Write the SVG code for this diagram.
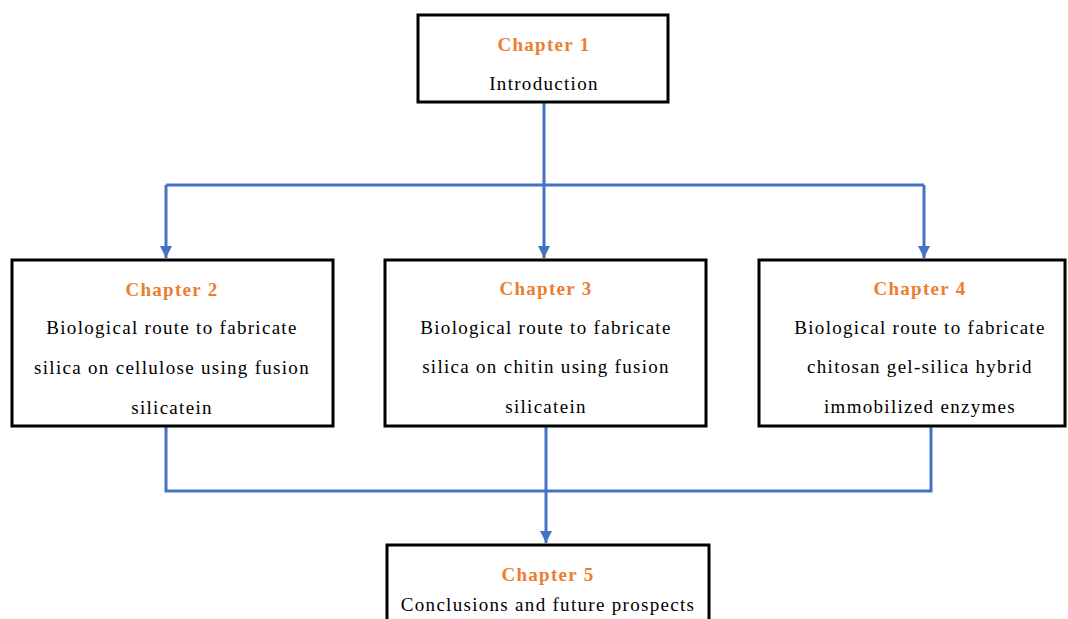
<svg xmlns="http://www.w3.org/2000/svg" width="1068" height="619" viewBox="0 0 1068 619">
<defs>
<style>
.box{fill:#fff;stroke:#000;stroke-width:3}
.ch{font-family:"Liberation Serif","Times New Roman",serif;font-size:19px;letter-spacing:1.3px;font-weight:bold;fill:#ED7D31;text-anchor:middle}
.tx{font-family:"Liberation Serif","Times New Roman",serif;font-size:19px;letter-spacing:1.3px;fill:#000;text-anchor:middle}
.ln{fill:none;stroke:#4472C4;stroke-width:3}
</style>
<marker id="ah" viewBox="0 0 10 10" refX="10" refY="5" markerWidth="4" markerHeight="4" orient="auto" markerUnits="strokeWidth">
<path d="M0,0 L10,5 L0,10 z" fill="#4472C4"/>
</marker>
</defs>
<rect width="1068" height="619" fill="#fff"/>
<g id="connectors">
<path class="ln" d="M544,102 V185"/>
<path class="ln" d="M166,185 H924"/>
<path class="ln" d="M166,185 V258" marker-end="url(#ah)"/>
<path class="ln" d="M544,185 V258" marker-end="url(#ah)"/>
<path class="ln" d="M924,185 V258" marker-end="url(#ah)"/>
<path class="ln" d="M166,426 V491 H931 V426"/>
<path class="ln" d="M546,426 V543" marker-end="url(#ah)"/>
</g>
<g id="ch1">
<rect class="box" x="418" y="15" width="250" height="87"/>
<text class="ch" x="544" y="51">Chapter 1</text>
<text class="tx" x="544" y="90">Introduction</text>
</g>
<g id="ch2">
<rect class="box" x="12" y="260" width="321" height="166"/>
<text class="ch" x="172" y="296">Chapter 2</text>
<text class="tx" x="172" y="334">Biological route to fabricate</text>
<text class="tx" x="172" y="374">silica on cellulose using fusion</text>
<text class="tx" x="172" y="414">silicatein</text>
</g>
<g id="ch3">
<rect class="box" x="385" y="260" width="321" height="166"/>
<text class="ch" x="546" y="295">Chapter 3</text>
<text class="tx" x="546" y="334">Biological route to fabricate</text>
<text class="tx" x="546" y="373">silica on chitin using fusion</text>
<text class="tx" x="546" y="413">silicatein</text>
</g>
<g id="ch4">
<rect class="box" x="759" y="260" width="306" height="166"/>
<text class="ch" x="920" y="295">Chapter 4</text>
<text class="tx" x="920" y="334">Biological route to fabricate</text>
<text class="tx" x="920" y="373">chitosan gel-silica hybrid</text>
<text class="tx" x="920" y="413">immobilized enzymes</text>
</g>
<g id="ch5">
<rect class="box" x="387" y="545" width="322" height="80"/>
<text class="ch" x="548" y="581">Chapter 5</text>
<text class="tx" x="548" y="611">Conclusions and future prospects</text>
</g>
</svg>
